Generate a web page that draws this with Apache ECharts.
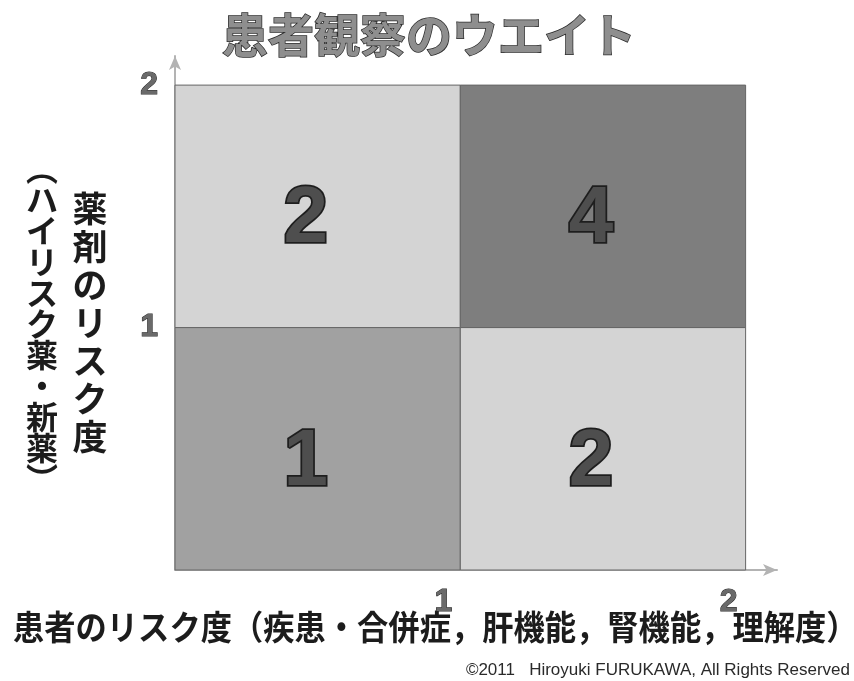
<!DOCTYPE html>
<html>
<head>
<meta charset="utf-8">
<script src="https://cdn.jsdelivr.net/npm/echarts@6/dist/echarts.min.js"></script>
<style>
  html, body { margin: 0; padding: 0; background: #ffffff; }
  #chart { width: 854px; height: 681px; }
</style>
</head>
<body>
<div id="chart"></div>
<script>
// Weight matrix: each cell spans (x-1..x) × (y-1..y)
const patientRisk = [1, 2, 1, 2];
const drugRisk    = [1, 1, 2, 2];
const weights     = [1, 2, 2, 4];

const axisTicks  = [0, 1, 2];
const tickLabels = ['', '1', '2'];

const titleText = '患者観察のウエイト';
const xName     = '患者のリスク度（疾患・合併症，肝機能，腎機能，理解度）';
const yName     = '薬剤のリスク度';
const yNameSub  = '（ハイリスク薬・新薬）';
const credit    = '©2011   Hiroyuki FURUKAWA, All Rights Reserved';

const shadeByWeight = { 1: '#a1a1a1', 2: '#d4d4d4', 4: '#7e7e7e' };

const cells = weights.map((w, i) => [patientRisk[i], drugRisk[i], w]);

// Stack characters for vertical writing, using vertical bracket forms
const toVertical = s => s.replace(/（/g, '︵').replace(/）/g, '︶').split('').join('\n');

const tickFormatter = v => {
  const i = axisTicks.indexOf(v);
  return i >= 0 ? tickLabels[i] : '';
};

const axisLineStyle = {
  show: true,
  symbol: ['none', 'arrow'],
  symbolSize: [9, 14],
  lineStyle: { color: '#b3b3b3', width: 2 }
};

const tickTextStyle = {
  fontFamily: '"Liberation Sans", Arial, sans-serif',
  fontWeight: 'bold',
  fontSize: 32,
  color: '#6a6a6a',
  textBorderColor: '#2a2a2a',
  textBorderWidth: 1
};

const chart = echarts.init(document.getElementById('chart'), null, { renderer: 'canvas' });

chart.setOption({
  backgroundColor: '#ffffff',
  animation: false,
  grid: { left: 175, right: 77, top: 56, bottom: 111, containLabel: false },
  xAxis: {
    type: 'value',
    min: 0,
    max: 2.11,
    interval: 1,
    axisLine: axisLineStyle,
    axisTick: { show: false },
    splitLine: { show: false },
    axisLabel: Object.assign({
      formatter: tickFormatter,
      showMaxLabel: false,
      showMinLabel: false,
      margin: 16,
      padding: [0, 34, 0, 0]
    }, tickTextStyle)
  },
  yAxis: {
    type: 'value',
    min: 0,
    max: 2.12,
    interval: 1,
    axisLine: axisLineStyle,
    axisTick: { show: false },
    splitLine: { show: false },
    axisLabel: Object.assign({
      formatter: tickFormatter,
      showMaxLabel: false,
      showMinLabel: false,
      margin: 17,
      padding: [10, 0, 0, 0]
    }, tickTextStyle)
  },
  series: [{
    type: 'custom',
    coordinateSystem: 'cartesian2d',
    clip: false,
    data: cells,
    renderItem: (params, api) => {
      const x = api.value(0), y = api.value(1), w = api.value(2);
      const topLeft = api.coord([x - 1, y]);
      const bottomRight = api.coord([x, y - 1]);
      const cx = (topLeft[0] + bottomRight[0]) / 2;
      const cy = (topLeft[1] + bottomRight[1]) / 2;
      return {
        type: 'group',
        children: [{
          type: 'rect',
          shape: {
            x: topLeft[0],
            y: topLeft[1],
            width: bottomRight[0] - topLeft[0],
            height: bottomRight[1] - topLeft[1]
          },
          style: { fill: shadeByWeight[w], stroke: '#666666', lineWidth: 1 }
        }, {
          type: 'text',
          x: cx - 12,
          y: cy + 14,
          style: {
            text: String(w),
            font: 'bold 80px "Liberation Sans", Arial, sans-serif',
            fill: '#4e4e4e',
            stroke: '#1e1e1e',
            lineWidth: 3.5,
            align: 'center',
            verticalAlign: 'middle'
          }
        }]
      };
    }
  }],
  graphic: [{
    type: 'text',
    x: 222, y: 12,
    style: {
      text: titleText,
      font: 'bold 46px "Noto Sans CJK JP", sans-serif',
      fill: '#8e8e8e',
      stroke: '#2c2c2c',
      lineWidth: 1.5
    }
  }, {
    type: 'text',
    x: 90, y: 190,
    style: {
      text: toVertical(yName),
      font: 'bold 35px "Noto Sans CJK JP", sans-serif',
      lineHeight: 38,
      fill: '#1c1c1c',
      align: 'center'
    }
  }, {
    type: 'text',
    x: 42, y: 153,
    style: {
      text: toVertical(yNameSub),
      font: 'bold 32px "Noto Sans CJK JP", sans-serif',
      lineHeight: 31,
      fill: '#1c1c1c',
      align: 'center'
    }
  }, {
    type: 'text',
    x: 13, y: 610,
    scaleX: 0.92,
    style: {
      text: xName,
      font: 'bold 34px "Noto Sans CJK JP", sans-serif',
      fill: '#1c1c1c'
    }
  }, {
    type: 'text',
    x: 850, y: 662,
    style: {
      text: credit,
      font: '17px "Liberation Sans", Arial, sans-serif',
      fill: '#2a2a2a',
      align: 'right'
    }
  }]
});
</script>
</body>
</html>
